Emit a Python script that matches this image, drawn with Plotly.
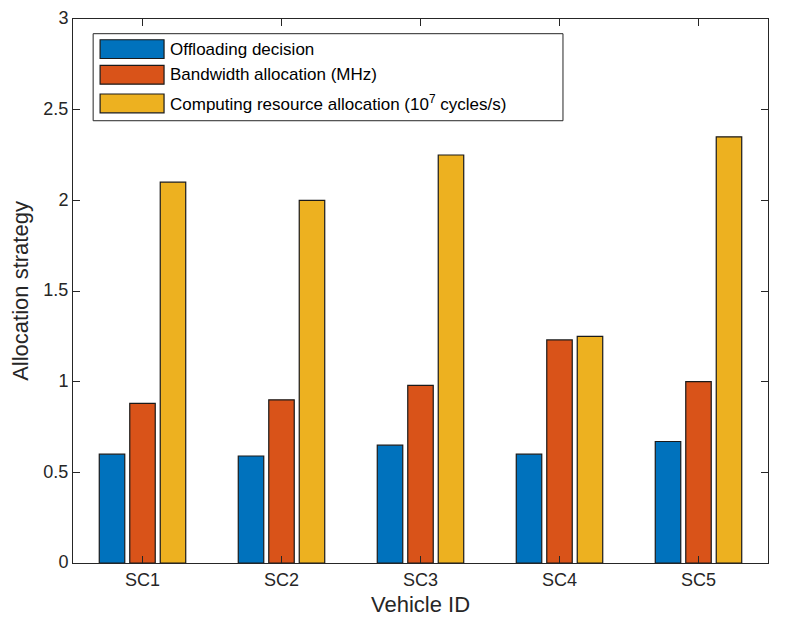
import plotly.graph_objects as go

categories = ["SC1", "SC2", "SC3", "SC4", "SC5"]
offloading = [0.60, 0.59, 0.65, 0.60, 0.67]
bandwidth = [0.88, 0.90, 0.98, 1.23, 1.00]
computing = [2.10, 2.00, 2.25, 1.25, 2.35]
series_names = ["Offloading decision", "Bandwidth allocation (MHz)",
                "Computing resource allocation (10<sup>7</sup> cycles/s)"]
colors = ["#0072BD", "#D95319", "#EDB120"]
ytick_vals = [0, 0.5, 1, 1.5, 2, 2.5, 3]
ytick_text = ["0", "0.5", "1", "1.5", "2", "2.5", "3"]

FONT = "Liberation Sans, Arial, Helvetica, sans-serif"
INK = "#262626"

fig = go.Figure()
for name, vals, col in zip(series_names, [offloading, bandwidth, computing], colors):
    fig.add_trace(go.Bar(x=categories, y=vals, name=name, marker_color=col,
                         marker_line=dict(color="#1a1a1a", width=1.2),
                         showlegend=False))

axis_common = dict(showline=True, linecolor=INK, linewidth=1, mirror="ticks",
                   ticks="inside", tickcolor=INK, ticklen=7, showgrid=False,
                   zeroline=False, automargin=False, ticklabeloverflow="allow",
                   tickfont=dict(size=18, color=INK, family=FONT))

# custom MATLAB-style legend (paper coordinates of the plot area)
box_x0, box_x1, box_y0, box_y1 = 0.029, 0.705, 0.813, 0.973
sw_x0, sw_x1 = 0.039, 0.131
rows = [(0.9274, 0.9619), (0.8802, 0.9147), (0.8276, 0.8621)]
shapes = [dict(type="rect", xref="paper", yref="paper", x0=box_x0, x1=box_x1,
               y0=box_y0, y1=box_y1, line=dict(color=INK, width=1),
               fillcolor="white", layer="above")]
annotations = []
for (y0, y1), col, name in zip(rows, colors, series_names):
    shapes.append(dict(type="rect", xref="paper", yref="paper", x0=sw_x0, x1=sw_x1,
                       y0=y0, y1=y1, fillcolor=col, line=dict(color="#1a1a1a", width=1.2),
                       layer="above"))
    annotations.append(dict(xref="paper", yref="paper", x=sw_x1 + 0.005, y=(y0 + y1) / 2,
                            xanchor="left", yanchor="middle", text=name, showarrow=False,
                            font=dict(size=17, color="#000000", family=FONT)))

fig.update_layout(
    width=788, height=626,
    margin=dict(l=65, r=28, t=11, b=71),
    paper_bgcolor="white", plot_bgcolor="white",
    font=dict(family=FONT, color=INK),
    barmode="group", bargap=0.342, bargroupgap=0.164,
    xaxis=dict(**axis_common,
               title=dict(text="Vehicle ID", font=dict(size=22, color=INK), standoff=8)),
    yaxis=dict(**axis_common, range=[0, 3], tickvals=ytick_vals, ticktext=ytick_text,
               ticklabelshift=-1,
               title=dict(text="Allocation strategy", font=dict(size=22, color=INK), standoff=14)),
    shapes=shapes,
    annotations=annotations,
    showlegend=False,
)

fig.write_html("out.html")
